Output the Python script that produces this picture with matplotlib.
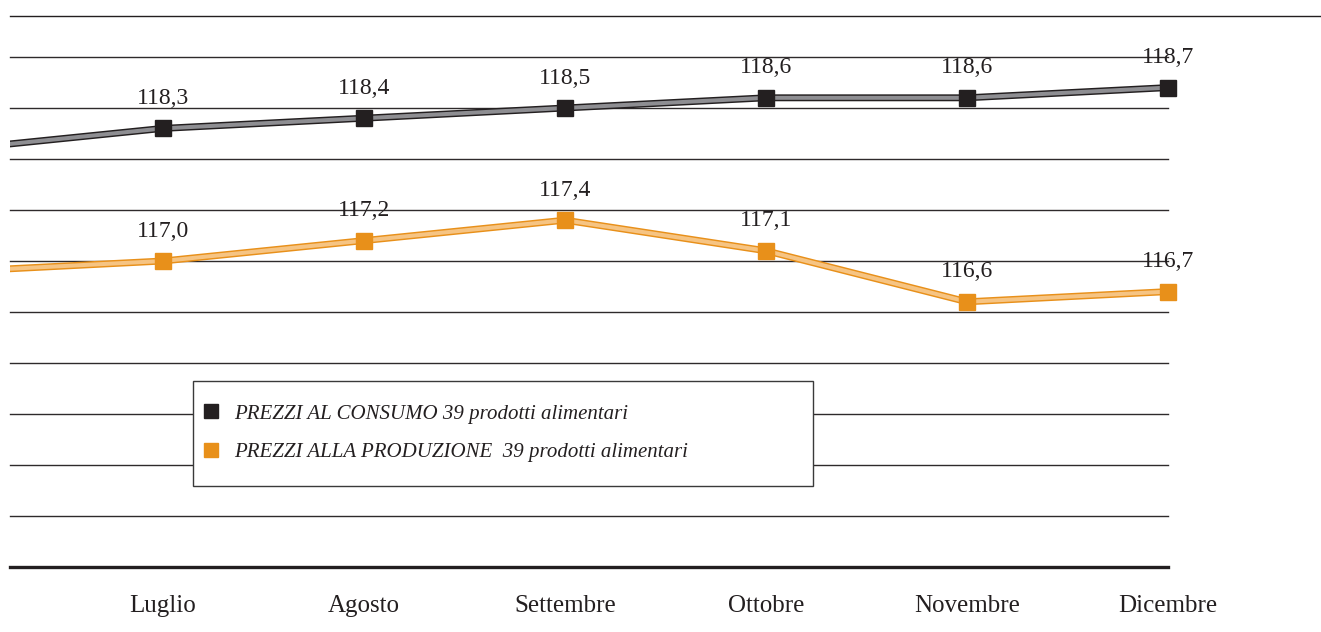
import matplotlib
matplotlib.use("Agg")
import matplotlib.pyplot as plt
from matplotlib.lines import Line2D
from matplotlib.patches import Rectangle

# months shown; position 0 (Giugno) is only the clipped lead-in of each line
months = ["Luglio", "Agosto", "Settembre", "Ottobre", "Novembre", "Dicembre"]
consumo = [118.1, 118.3, 118.4, 118.5, 118.6, 118.6, 118.7]
produzione = [116.9, 117.0, 117.2, 117.4, 117.1, 116.6, 116.7]
series_names = ["PREZZI AL CONSUMO 39 prodotti alimentari",
                "PREZZI ALLA PRODUZIONE  39 prodotti alimentari"]

W, H = 1321, 632
plt.rcParams["font.family"] = ["Liberation Serif", "DejaVu Serif"]
fig = plt.figure(figsize=(W / 100, H / 100), dpi=100)
ax = fig.add_axes([10 / W, 1 - 567 / H, (1168 - 10) / W, (567 - 57) / H])

x = list(range(len(consumo)))
ax.set_xlim(1 - 153 / 201, 6)
ax.set_ylim(114.0, 119.0)

for v in [114.5 + 0.5 * i for i in range(10)]:
    ax.axhline(v, color="#2e2a2b", lw=1.0, zorder=1, clip_on=False)
ax.axhline(114.0, color="#231f20", lw=2.4, zorder=1, clip_on=False)

styles = [
    (consumo, "#231f20", "#8e8e92", "#231f20"),
    (produzione, "#e8901a", "#f6c483", "#e8901a"),
]
for vals, edge, core, mk in styles:
    ax.plot(x, vals, color=edge, lw=5.0, solid_capstyle="butt", zorder=3)
    ax.plot(x, vals, color=core, lw=2.9, solid_capstyle="butt", zorder=4)
    ax.plot(x[1:], vals[1:], ls="none", marker="s", ms=12, color=mk,
            mec=mk, zorder=5, clip_on=False)
    for xi, v in zip(x[1:], vals[1:]):
        ax.annotate(f"{v:.1f}".replace(".", ","), (xi, v), xytext=(0, 14),
                    textcoords="offset points", ha="center", va="bottom",
                    fontsize=17, color="#231f20", zorder=6,
                    annotation_clip=False)

ax.set_xticks(x[1:])
ax.set_xticklabels(months, fontsize=18, color="#231f20")
ax.tick_params(axis="x", length=0, pad=20)
ax.set_yticks([])
for s in ax.spines.values():
    s.set_visible(False)

# thin rule across the top of the figure
fig.add_artist(Line2D([10 / W, 1.0], [1 - 16 / H, 1 - 16 / H],
                      color="#231f20", lw=1.0))

# legend box drawn separately so its size matches the original
fig.add_artist(Rectangle((193 / W, 1 - 486 / H), 620 / W, 105 / H,
                         transform=fig.transFigure, facecolor="white",
                         edgecolor="#3a3a3a", lw=1.0, zorder=10))
handles = [Line2D([], [], ls="none", marker="s", ms=10, color=c)
           for c in ("#231f20", "#e8901a")]
leg = fig.legend(handles, series_names, loc="center left",
                 bbox_to_anchor=(204 / W, 1 - 433 / H),
                 prop={"style": "italic", "size": 15}, frameon=False,
                 handlelength=0.7, handletextpad=0.75, labelspacing=0.9,
                 borderpad=0, borderaxespad=0)
leg.set_zorder(11)
for t in leg.get_texts():
    t.set_color("#231f20")

fig.savefig("out.png", dpi=100)
